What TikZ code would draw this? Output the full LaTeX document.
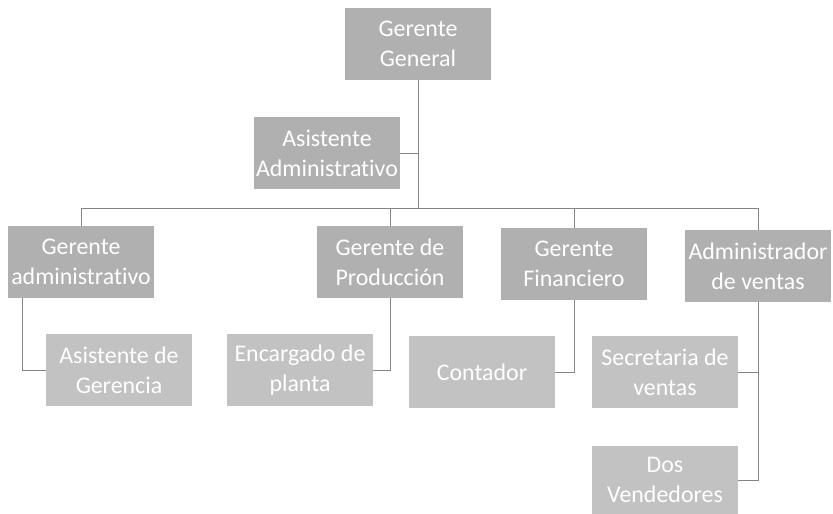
\documentclass[tikz,border=0pt]{standalone}
\usepackage{fontspec}
\setmainfont{Carlito}[Ligatures=NoCommon]
\usepackage{tikz}

\begin{document}
\begin{tikzpicture}[x=0.025cm, y=-0.025cm,
  puesto/.style={fill=black!31, text=white, align=center, inner sep=0pt,
    minimum width=3.625cm, minimum height=1.8cm,
    font=\fontsize{17}{21.5}\selectfont},
  bajo/.style={puesto, fill=black!24},
  linea/.style={draw=black!48, line width=0.6pt}]
\useasboundingbox[fill=white] (0,0) rectangle (833,513);

\node[puesto] (gg) at (418,44) {Gerente\\General};
\node[puesto] (aa) at (327,153) {Asistente\\Administrativo};

\node[puesto] (ga) at (81,262) {Gerente\\administrativo};
\node[puesto] (gp) at (390,262) {Gerente de\\Producción};
\node[puesto] (gf) at (574,264) {Gerente\\Financiero};
\node[puesto] (av) at (758,266) {Administrador\\de ventas};

\node[bajo] (ag) at (119,370) {Asistente de\\Gerencia};
\node[bajo] (ep) at (300,370) {Encargado de\\planta};
\node[bajo] (co) at (482,372) {Contador};
\node[bajo] (sv) at (665,372) {Secretaria de\\ventas};
\node[bajo, minimum height=1.7cm] (dv) at (665,480) {Dos\\Vendedores};

\coordinate (busL) at (82,208);
\coordinate (busR) at (758,208);

\draw[linea] (gg.south) -- (gg.south |- busL);
\draw[linea] (aa.east) -- (aa.east -| gg.south);
\draw[linea] (busL) -- (busR);
\draw[linea] (ga.north) -- (ga.north |- busL);
\draw[linea] (gp.north) -- (gp.north |- busL);
\draw[linea] (gf.north) -- (gf.north |- busL);
\draw[linea] (av.north) -- (av.north |- busL);

\draw[linea] ([xshift=0.35cm]ga.south west) |- (ag.west);
\draw[linea] (gp.south) |- (ep.east);
\draw[linea] (gf.south) |- (co.east);
\draw[linea] (av.south) |- (dv.east);
\draw[linea] (sv.east) -- (sv.east -| av.south);
\end{tikzpicture}
\end{document}
